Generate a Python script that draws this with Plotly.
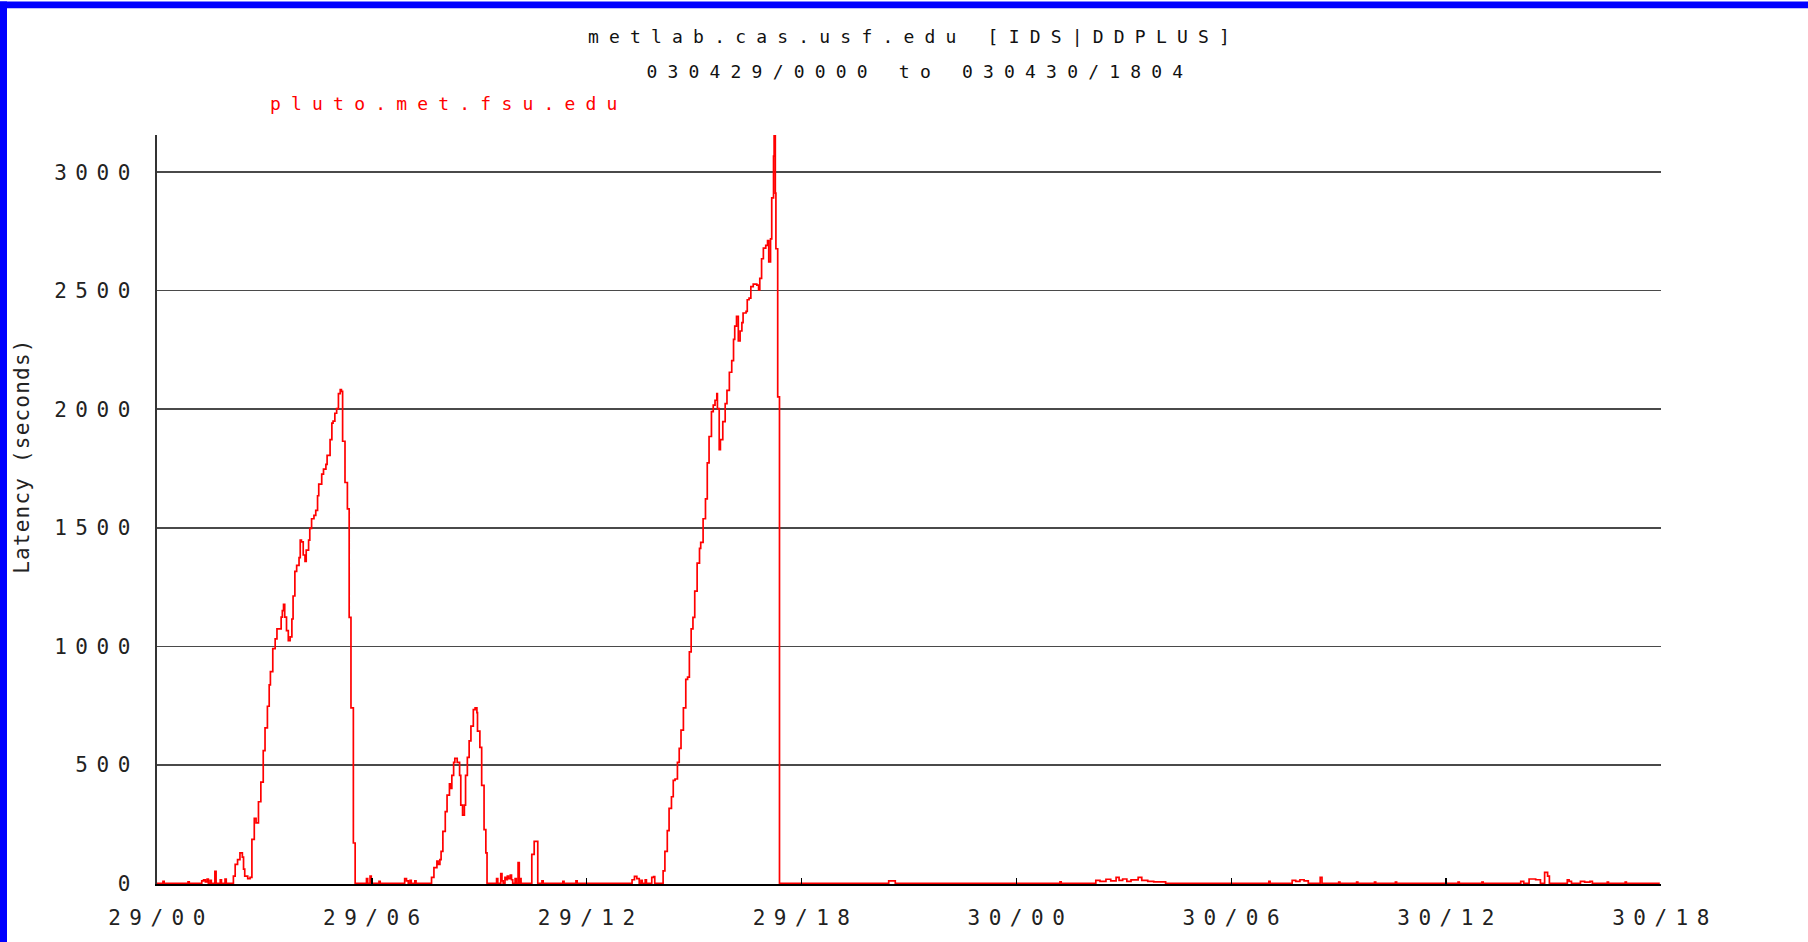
import pandas as pd
import plotly.graph_objects as go

START = pd.Timestamp("2003-04-29 00:00")
END = pd.Timestamp("2003-04-30 18:00")

# minutes after 29/00 at which the latency steps to the value below
minutes = [
    0, 10, 12, 52, 54, 75, 78, 81, 84, 86, 89, 91, 97, 99, 106, 108, 114, 116, 126,
    # first hump
    128, 131, 135, 139, 143, 145, 147, 152, 156, 159, 163, 166, 170, 174, 178, 181,
    185, 188, 190, 194, 198, 201, 206, 208, 210, 212, 214, 217, 220, 223, 226, 228,
    231, 234, 238, 240, 242, 245, 248, 250, 254, 256, 259, 263, 266, 269, 271, 276,
    279, 283, 285, 290, 293, 295, 298, 301, 304, 307, 309, 311, 315, 319, 322, 325,
    329, 332,
    351, 353, 357, 359, 372, 374, 415, 418, 421, 424, 426, 432, 434,
    # second hump
    460, 464, 469, 471, 474, 476, 479, 483, 486, 490, 492, 494, 497, 499, 503, 507,
    509, 512, 515, 517, 520, 523, 526, 530, 533, 536, 537, 541, 544, 548, 551, 553,
    569, 571, 576, 578, 580, 583, 585, 587, 589, 592, 594, 596, 600, 602, 605, 607,
    608, 610, 628, 632, 636, 638, 645, 647, 680, 682, 702, 704,
    796, 800, 804, 808, 811, 813, 818, 820, 829, 832, 834,
    # third hump
    848, 851, 855, 858, 862, 865, 868, 872, 875, 878, 882, 886, 889, 892, 895, 898,
    901, 905, 909, 911, 915, 919, 922, 925, 929, 932, 935, 938, 939, 942, 944, 948,
    952, 955, 959, 963, 966, 968, 971, 974, 977, 980, 982, 987, 989, 992, 995, 999,
    1005, 1008, 1010, 1013, 1016, 1020, 1023, 1025, 1028, 1030, 1033, 1034, 1036,
    1037, 1040, 1043,
    # quiet day
    1226, 1237, 1513, 1515,
    1573, 1580, 1590, 1598, 1607, 1612, 1618, 1625, 1632, 1644, 1650, 1660, 1670, 1690,
    1863, 1865, 1902, 1908, 1915, 1922, 1929, 1949, 1952,
    1980, 1982, 2010, 2012, 2040, 2042, 2075, 2077, 2180, 2182, 2220, 2222,
    2285, 2290, 2299, 2310, 2318, 2325, 2330, 2333, 2363, 2366, 2370,
    2385, 2392, 2401, 2405, 2430, 2432, 2460, 2462, 2518,
]

latency = [
    0, 8, 0, 6, 0, 10, 14, 6, 18, 0, 12, 0, 50, 0, 14, 0, 18, 0, 0,
    30, 80, 100, 128, 110, 60, 30, 20, 25, 185, 274, 255, 344, 427, 560, 656,
    747, 837, 893, 990, 1031, 1073, 1073, 1123, 1150, 1177, 1123, 1066, 1024, 1040, 1115, 1212,
    1316, 1341, 1374, 1448, 1440, 1385, 1358, 1406, 1448, 1497, 1538, 1552, 1573, 1635, 1684, 1726,
    1747, 1767, 1805, 1872, 1941, 1950, 1983, 2003, 2066, 2083, 2075, 1865, 1691, 1580, 1122, 740,
    170, 0,
    20, 0, 30, 0, 8, 0, 20, 10, 0, 12, 0, 10, 0,
    25, 66, 94, 80, 100, 135, 219, 302, 372, 420, 400, 455, 510, 527, 510, 455,
    330, 288, 330, 455, 531, 601, 663, 733, 740, 720, 642, 573, 413, 226, 128, 0,
    20, 0, 41, 10, 0, 25, 15, 30, 20, 35, 15, 0, 20, 0, 87, 0,
    20, 0, 122, 177, 177, 0, 10, 0, 8, 0, 10, 0,
    15, 29, 20, 0, 12, 0, 15, 0, 25, 28, 0,
    52, 135, 222, 316, 365, 434, 440, 510, 569, 646, 740, 860, 870, 976, 1073, 1122,
    1233, 1351, 1413, 1438, 1538, 1622, 1774, 1885, 1990, 2017, 2038, 2066, 2003, 1830, 1872, 1948,
    2024, 2080, 2156, 2205, 2295, 2351, 2392, 2288, 2330, 2365, 2406, 2413, 2462, 2469, 2517, 2528,
    2524, 2503, 2552, 2635, 2680, 2691, 2712, 2622, 2719, 2892, 3068, 3156, 2912,
    2677, 2052, 0,
    10, 0, 6, 0,
    12, 8, 17, 10, 25, 12, 18, 8, 14, 25, 12, 8, 6, 0,
    8, 0, 12, 8, 15, 10, 0, 25, 0,
    5, 0, 5, 0, 5, 0, 5, 0, 5, 0, 5, 0,
    8, 0, 18, 15, 0, 46, 30, 0, 15, 8, 0,
    8, 5, 8, 0, 5, 0, 5, 0, 0,
]

TITLE = "metlab.cas.usf.edu [IDS|DDPLUS]"
PERIOD = "030429/0000 to 030430/1804"
HOST = "pluto.met.fsu.edu"
Y_LABEL = "Latency (seconds)"
y_ticks = [0, 500, 1000, 1500, 2000, 2500, 3000]
x_tick_labels = ["29/00", "29/06", "29/12", "29/18", "30/00", "30/06", "30/12", "30/18"]

# page geometry
W, H = 1808, 942
ML, MR, MT, MB = 157, 147, 135, 50
PW = W - ML - MR
PH = H - MT - MB


def paper_x(px):
    return (px - ML) / PW


def paper_y(py):
    return (H - MB - py) / PH


times = START + pd.to_timedelta(minutes, unit="min")
x_ticks = pd.date_range(START, END, freq="6h")

fig = go.Figure(go.Scatter(
    x=times, y=latency, mode="lines", line_shape="hv",
    line=dict(color="#ff0000", width=1.7), showlegend=False,
))

mono = "DejaVu Sans Mono"
fig.update_layout(
    width=W, height=H, autosize=False,
    margin=dict(l=ML, r=MR, t=MT, b=MB, pad=0),
    paper_bgcolor="white", plot_bgcolor="white",
    font=dict(family=mono, color="#222"),
    xaxis=dict(
        range=[START, END], tickvals=x_ticks, ticktext=x_tick_labels,
        ticks="inside", ticklen=6, tickwidth=1.5, tickcolor="black",
        showgrid=False, zeroline=False, showline=True, linecolor="black", linewidth=2,
        tickfont=dict(size=21, family=mono, color="#222"),
        ticklabelstandoff=14, ticklabelshift=4,
    ),
    yaxis=dict(
        range=[-3, 3157], tickvals=y_ticks, ticks="",
        showgrid=True, gridcolor="#4a4a4a", gridwidth=1.5, zeroline=False,
        showline=True, linecolor="#333", linewidth=2,
        tickfont=dict(size=21, family=mono, color="#222"),
        ticklabelstandoff=12,
    ),
    annotations=[
        dict(text=TITLE, xref="paper", yref="paper", x=paper_x(914), y=paper_y(35),
             xanchor="center", yanchor="middle", showarrow=False,
             font=dict(size=18, family=mono, color="#111")),
        dict(text=PERIOD, xref="paper", yref="paper", x=paper_x(920), y=paper_y(71),
             xanchor="center", yanchor="middle", showarrow=False,
             font=dict(size=18, family=mono, color="#111")),
        dict(text=HOST, xref="paper", yref="paper", x=paper_x(268), y=paper_y(103),
             xanchor="left", yanchor="middle", align="left", showarrow=False,
             font=dict(size=18, family=mono, color="#ff0000")),
        dict(text=Y_LABEL, xref="paper", yref="paper", x=paper_x(22), y=paper_y(460),
             xanchor="center", yanchor="middle", textangle=-90, showarrow=False,
             font=dict(size=21, family=mono, color="#222")),
    ],
    shapes=[
        dict(type="rect", xref="paper", yref="paper", layer="above",
             x0=paper_x(0), x1=paper_x(7), y0=paper_y(H + 20), y1=paper_y(0),
             fillcolor="#0000ff", line_width=0),
        dict(type="rect", xref="paper", yref="paper", layer="above",
             x0=paper_x(0), x1=paper_x(W), y0=paper_y(7), y1=paper_y(0),
             fillcolor="#0000ff", line_width=0),
    ],
)

# the original bitmap font is widely spaced; spread the glyphs to the same pitch
SPACING_JS = """
document.documentElement.style.overflow = 'hidden';
document.body.style.overflow = 'hidden';
document.body.style.margin = '0';
var gd = document.getElementById('{plot_id}');
gd.querySelectorAll('.xtick text, .ytick text').forEach(function (t) {
    t.style.letterSpacing = '8.5px';
});
var gaps = [10.2, 10.2, 10.2, 1.2];
gd.querySelectorAll('.annotation-text').forEach(function (t, i) {
    t.style.letterSpacing = gaps[i] + 'px';
});
"""

fig.write_html("out.html", post_script=SPACING_JS,
               config={"displayModeBar": False, "staticPlot": True})
